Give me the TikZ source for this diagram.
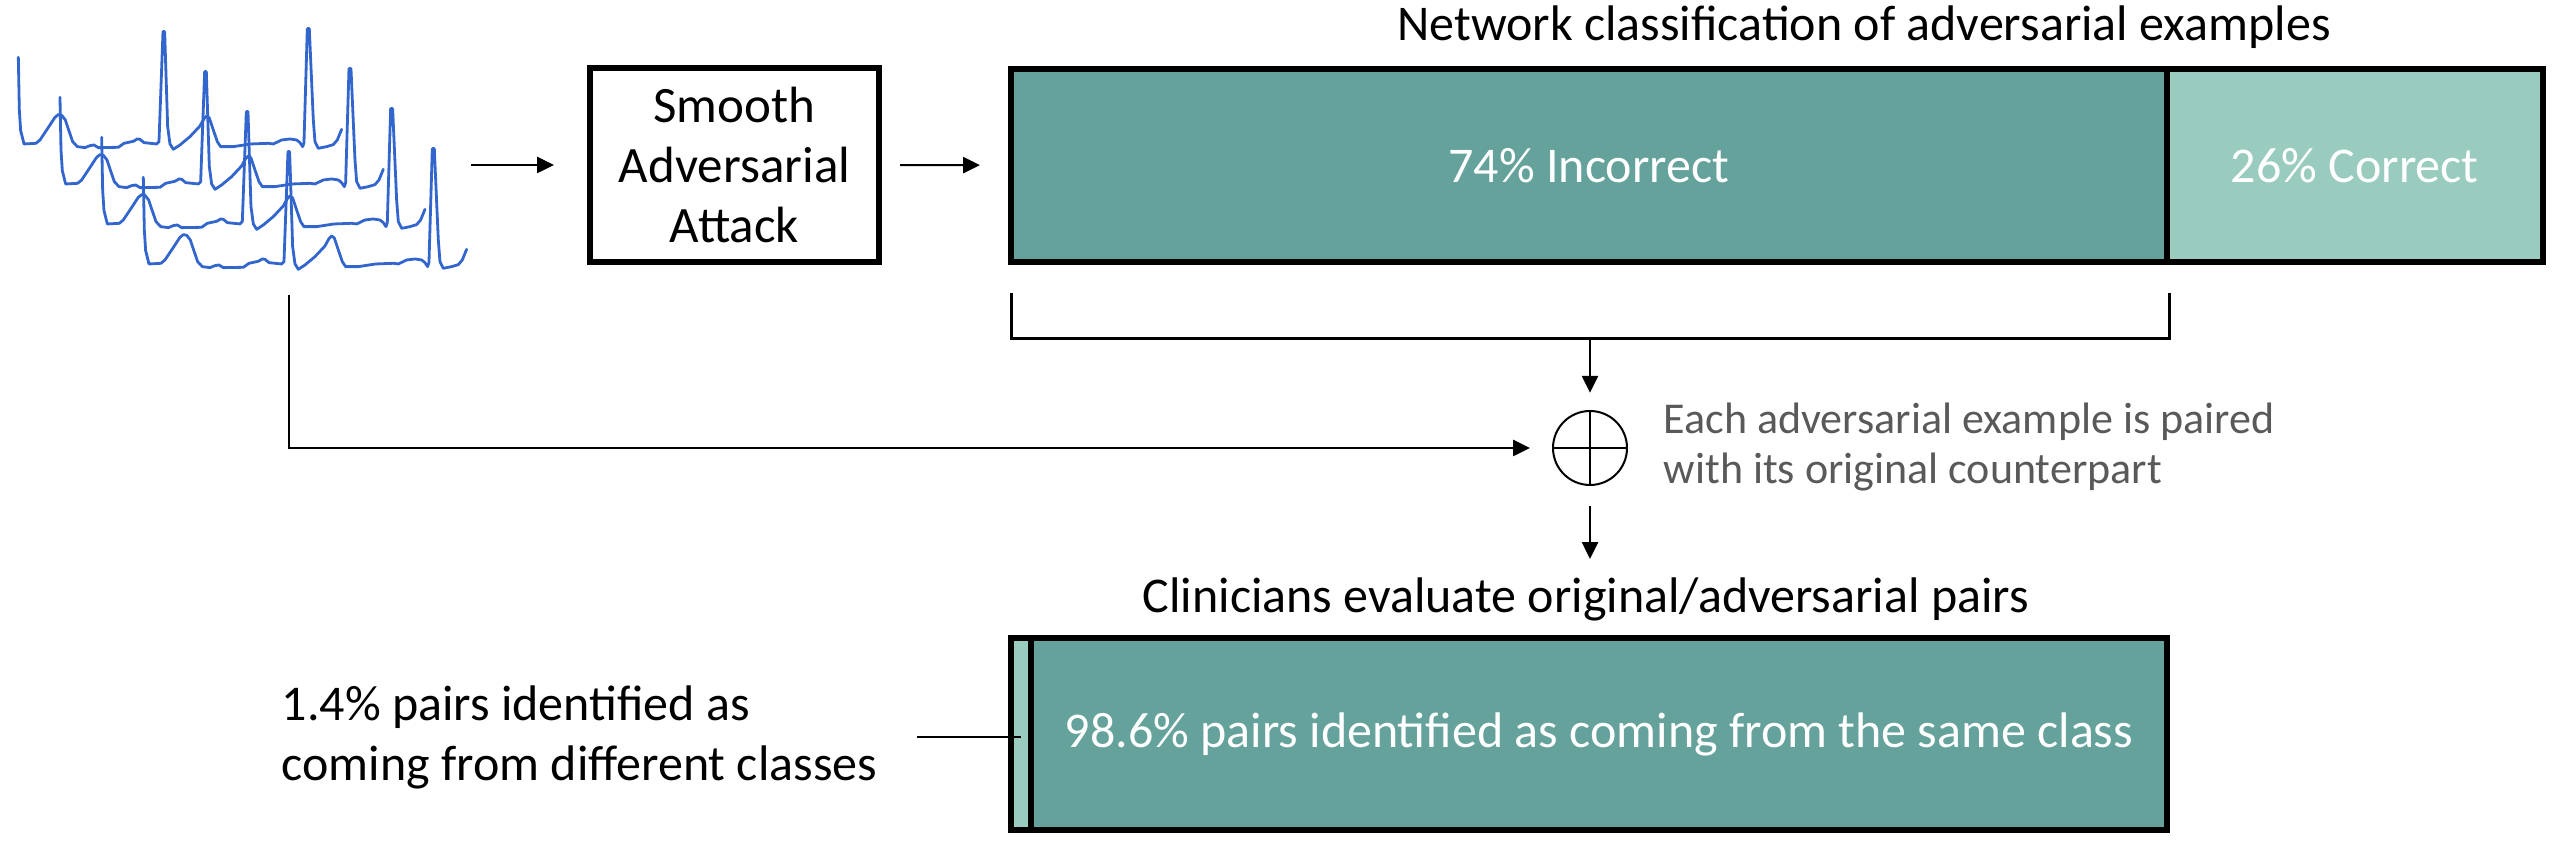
\documentclass[tikz,border=0pt]{standalone}
\usepackage{fontspec}
\setmainfont{Carlito}
\usetikzlibrary{arrows.meta}
\definecolor{tealdark}{RGB}{100,162,155}
\definecolor{teallight}{RGB}{153,203,191}
\definecolor{ecgblue}{RGB}{50,102,204}
\definecolor{graytext}{RGB}{89,89,89}
\tikzset{
  arr/.style={line width=0.5pt,-{Triangle[length=4.2pt,width=4pt]}},
  ecg/.style={ecgblue,line width=0.7pt,line join=round,line cap=round},
  attackbox/.style={draw,line width=1.5pt,align=center,inner sep=0pt,font=\fontsize{12.75}{15}\selectfont},
  barcell/.style={draw,line width=1.5pt,inner sep=0pt,text=white,font=\fontsize{12.5}{15}\selectfont},
  ttl/.style={inner sep=0pt,font=\fontsize{12.5}{15}\selectfont},
  brk/.style={line width=0.75pt},
}
\begin{document}
\begin{tikzpicture}[x=0.25pt,y=-0.25pt]
\useasboundingbox (0,0) rectangle (2570,862);

% ECG traces
\begin{scope}[x=0.083333pt,y=-0.083333pt]
\foreach \k in {0,1,2,3}{
\draw[ecg,shift={(125*\k,120*\k)}] (55,172) -- (58,330) -- (62,392) -- (72,432) -- (108,430) -- (120,420) -- (140,390) -- (165,352) -- (175,344) -- (185,346) -- (196,360) -- (206,390) -- (218,425) -- (232,440) -- (255,443) -- (270,437) -- (282,435) -- (295,443) -- (355,442) -- (372,430) -- (400,424) -- (412,417) -- (420,418) -- (432,428) -- (470,432) -- (477,425) -- (489,95) -- (494,95) -- (503,380) -- (510,432) -- (520,448) -- (540,435) -- (570,410) -- (600,378) -- (612,356) -- (620,348) -- (628,354) -- (640,390) -- (652,425) -- (662,440) -- (700,440) -- (752,432) -- (805,430) -- (820,432) -- (845,420) -- (870,417) -- (890,420) -- (900,428) -- (908,440) -- (912,428) -- (922,86) -- (928,86) -- (940,360) -- (945,425) -- (955,445) -- (980,440) -- (1000,434) -- (1012,420) -- (1025,388);
}
\end{scope}
\coordinate (ecgR) at (471,165);
\coordinate (ecgB) at (289,295);

% attack box
\node (smooth) [attackbox,minimum width=72.25pt,minimum height=48.5pt] at (734.5,165) {Smooth\\Adversarial\\Attack};

% top bar
\node (nettitle) [ttl,anchor=base] at (1864,41) {Network classification of adversarial examples};
\node (incorrect) [barcell,fill=tealdark,minimum width=288.875pt,minimum height=48.25pt] at (1588.75,165.5) {74\% Incorrect};
\node (correct) [barcell,fill=teallight,minimum width=94.125pt,minimum height=48.25pt] at (2354.75,165.5) {26\% Correct};

\draw[arr,shorten >=8.25pt] (ecgR) -- (smooth);
\draw[arr,shorten <=4.5pt,shorten >=7pt] (smooth) -- (incorrect);

% bracket
\coordinate (bL) at (1011,293);
\coordinate (bR) at (2169,293);
\coordinate (bM) at (1590,339);
\draw[brk] (bL) |- (bM) -| (bR);

% combine
\node (circ) [circle,draw,line width=0.5pt,minimum size=18.5pt,inner sep=0pt] at (1590,448) {};
\draw[line width=0.5pt] (circ.north) -- (circ.south) (circ.west) -- (circ.east);
\draw[arr,shorten >=4.3pt] (bM) -- (circ.north);
\draw[arr,shorten >=5.5pt] (ecgB) |- (circ.west);
\node (pairtxt) [anchor=west,align=left,inner sep=0pt,text=graytext,font=\fontsize{11}{12.5}\selectfont] at (1663,447) {Each adversarial example is paired\\with its original counterpart};

% clinicians
\coordinate (clinTop) at (1590,559);
\draw[arr,shorten <=5pt] (circ.south) -- (clinTop);
\node (clin) [ttl,anchor=base] at (1586,613) {Clinicians evaluate original/adversarial pairs};
\node (diff) [barcell,fill=teallight,minimum width=5pt,minimum height=48pt] at (1021,734) {};
\node (same) [barcell,fill=tealdark,minimum width=284pt,minimum height=48pt] at (1599,734) {98.6\% pairs identified as coming from the same class};
\node (difflbl) [anchor=west,align=left,inner sep=0pt,font=\fontsize{12.5}{15}\selectfont] at (281,737) {1.4\% pairs identified as\\coming from different classes};
\draw[line width=0.5pt,shorten <=9.75pt] (difflbl.east) -- (difflbl.east -| diff.center);
\end{tikzpicture}
\end{document}
